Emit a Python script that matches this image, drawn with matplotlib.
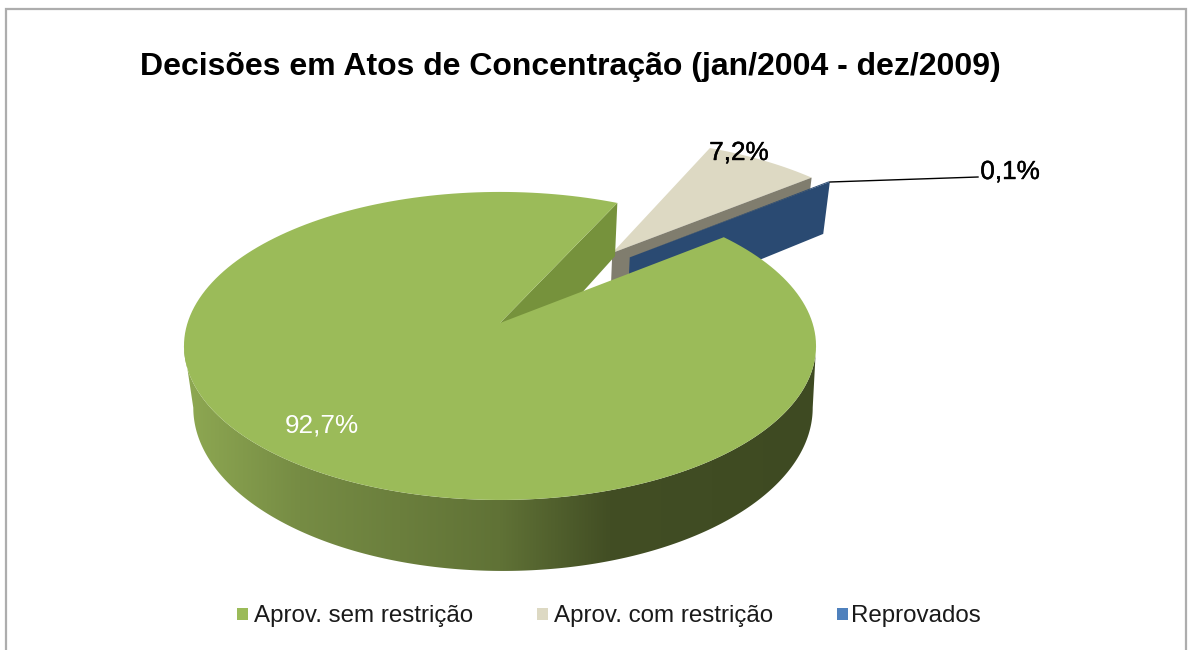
import numpy as np
import matplotlib
matplotlib.use("Agg")
import matplotlib.pyplot as plt
import matplotlib.patheffects as pe
from matplotlib.patches import Rectangle, Polygon

title = "Decisões em Atos de Concentração (jan/2004 - dez/2009)"
categories = ["Aprov. sem restrição", "Aprov. com restrição", "Reprovados"]
shares = [92.7, 7.2, 0.1]
share_labels = ["92,7%", "7,2%", "0,1%"]

top_colors = ["#9BBB59", "#DDD9C3", "#4F81BD"]
wall_colors = ["#76923C", "#807D6E", "#2A4A72"]
first_angle = 38.5

# view of the 3d pie, in pixels
cx, cy = 500, 323
rx, ry = 312.5, 150.6
persp = 0.149
depth = 60.4
converge = 0.02
offsets = [(0, 0), (0.386, 0.50), (0.444, 0.466)]


def project(x, y, z=0.0):
    x = np.asarray(x, dtype=float)
    y = np.asarray(y, dtype=float)
    w = 1 + persp * y
    return cx + rx * x / w * (1 - converge * z), cy - ry * y / w + depth * z / w


def arc(a0, a1, off, n=200):
    t = np.radians(np.linspace(a0, a1, n))
    return np.cos(t) + off[0], np.sin(t) + off[1]


def wall(a, off, color):
    # flat side of a slice, from apex to rim
    x, y = np.cos(np.radians(a)) + off[0], np.sin(np.radians(a)) + off[1]
    px = [off[0], x, x, off[0]]
    py = [off[1], y, y, off[1]]
    zz = [0, 0, 1, 1]
    pts = [project(px[i], py[i], zz[i]) for i in range(4)]
    ax.fill([p[0] for p in pts], [p[1] for p in pts], color=color, lw=0)


def top_face(a0, a1, off, color):
    x, y = arc(a0, a1, off)
    sx, sy = project(np.r_[off[0], x], np.r_[off[1], y])
    ax.fill(sx, sy, color=color, lw=0)


fig = plt.figure(figsize=(11.89, 6.5), dpi=100)
ax = fig.add_axes([0, 0, 1, 1])
ax.axis("off")
plt.rcParams["font.family"] = ["Liberation Sans", "DejaVu Sans"]

ax.add_patch(Rectangle((6, 9), 1180, 660, fc="white", ec="#ADADAD", lw=1.6))

# angles run clockwise from first_angle
sweeps = np.array(shares) / sum(shares) * 360
ends = first_angle - np.cumsum(sweeps)
starts = np.r_[first_angle, ends[:-1]]

# beige slice
top_face(starts[1], ends[1], offsets[1], top_colors[1])
wall(ends[1], offsets[1], wall_colors[1])

# blue slice, only its wall really shows
top_face(starts[2], ends[2], offsets[2], wall_colors[2])
wall(ends[2], offsets[2], wall_colors[2])

# big slice: rim with gradient, cut wall, then top
grad_x = [187, 300, 500, 610, 814]
grad_r = [142, 118, 96, 66, 62]
grad_g = [168, 140, 114, 78, 74]
grad_b = [82, 68, 54, 36, 34]
xs = np.arange(170, 830)
grad = np.dstack([np.interp(xs, grad_x, grad_r),
                  np.interp(xs, grad_x, grad_g),
                  np.interp(xs, grad_x, grad_b)]).astype(np.uint8)
# rim runs between the two points where the ellipse is widest
side = np.degrees(np.arcsin(-persp))
x, y = arc(side, -180 - side, offsets[0], n=300)
x0, y0 = project(x, y, 0)
x1, y1 = project(x, y, 1)
# the lower edge leans right a little in the original
x1 = x1 + 3
band = Polygon(np.c_[np.r_[x0, x1[::-1]], np.r_[y0, y1[::-1]]], closed=True, fc="none", ec="none")
ax.add_patch(band)
im = ax.imshow(grad, extent=(170, 830, 600, 300), aspect="auto", interpolation="bilinear", zorder=1)
im.set_clip_path(band)
wall(ends[0] + 360, offsets[0], wall_colors[0])
top_face(starts[0], ends[0], offsets[0], top_colors[0])

ax.set_xlim(0, 1189)
ax.set_ylim(650, 0)

# texts
heavy = [pe.withStroke(linewidth=0.3, foreground="black")]
ax.text(570, 67, title, ha="center", va="center", fontsize=23, fontweight="bold", color="black")
ax.text(321.5, 426, share_labels[0], ha="center", va="center", fontsize=18.8, color="white")
ax.text(739, 153, share_labels[1], ha="center", va="center", fontsize=18.8, color="black", path_effects=heavy)
ax.text(1010, 172, share_labels[2], ha="center", va="center", fontsize=18.8, color="black", path_effects=heavy)
ax.plot([830, 978], [182, 177], color="black", lw=1)

# legend
leg_sq = [237, 537, 837]
leg_txt = [254, 554, 851]
for sq, tx, c, name in zip(leg_sq, leg_txt, top_colors, categories):
    ax.add_patch(Rectangle((sq, 608), 11, 12, fc=c, ec="none"))
    ax.text(tx, 616, name, ha="left", va="center", fontsize=17.4, color="#1a1a1a")

fig.savefig("out.png", dpi=100)
